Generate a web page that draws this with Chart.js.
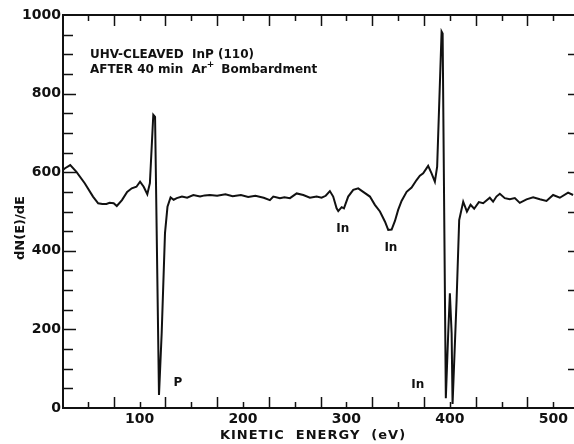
<!DOCTYPE html>
<html>
<head>
<meta charset="utf-8">
<script src="https://cdn.jsdelivr.net/npm/chart.js@4.4.1/dist/chart.umd.min.js"></script>
<style>
  html, body { margin: 0; padding: 0; background: #fff; }
  canvas { display: block; }
</style>
</head>
<body>
<canvas id="auger" width="574" height="444"></canvas>
<script>
// Auger spectrum, InP (110) after Ar+ bombardment
const energyEv = [
  26, 28, 33, 39, 47, 55, 60, 64, 68, 71, 75, 78, 83, 88, 92.5, 97, 100.5, 104, 107.5, 110,
  113.3, 115, 118.8, 121.4, 124.6, 127, 130, 133, 136, 141, 146, 152, 158.5, 163, 168,
  175, 183, 190, 198, 205, 212, 220, 226, 229.3, 235.7, 240, 245.4, 251.9, 258.3, 264.7,
  271.2, 276, 280, 284, 287.2, 290.5, 292.1, 295.4, 297.6, 301.7, 306.6, 311.4, 316.2,
  322.7, 327.5, 332.4, 337.3, 340.4, 343.7, 346.9, 350, 353.3, 358.2, 363, 367.8, 371,
  374.2, 379, 382.3, 385.5, 387.7, 392, 393, 396.1, 398.4, 400, 401.7, 402.6, 406.5, 409,
  412.9, 416.5, 420, 423.5, 428, 432.2, 438.6, 441.8, 445, 448.3, 453.1, 458, 462.8,
  467.6, 474.1, 480.5, 487, 493.4, 499.8, 506.3, 514.3, 519.1
];
const dNdE = [
  606, 610, 618, 601, 572, 538, 521, 519, 519, 522, 521, 514, 529, 550, 559, 563, 576, 563, 544, 572,
  746, 741, 33, 191, 445, 512, 536, 530, 534, 538, 535, 542, 538, 541, 542,
  540, 544, 539, 542, 537, 540, 535, 529, 538, 534, 536, 534, 546, 542, 535,
  538, 535, 540, 552, 538, 508, 501, 511, 508, 538, 555, 559, 550,
  538, 517, 500, 474, 453, 454, 476, 504, 527, 550, 561, 580, 591,
  597, 616, 597, 576, 614, 958, 953, 25, 190, 292, 190, 10, 275, 478,
  525, 500, 517, 507, 524, 521, 535, 525, 538, 545, 534, 531, 534,
  522, 531, 536, 531, 527, 542, 535, 548, 542
];

const xTickLabels = [100, 200, 300, 400, 500];
const yTickLabels = [0, 200, 400, 600, 800, 1000];

// peak labels, placed in data coordinates
const peakNames = ["P", "In", "In", "In"];
const peakAtEv = [137, 296.5, 343, 369];
const peakAtValue = [64, 455, 407, 58];

const ink = "#111";
const textFont = "bold 12px 'DejaVu Sans'";

// frame and inward tick marks, like the plotter drew them
const frameTicks = {
  id: "frameTicks",
  afterDatasetsDraw(chart) {
    const { ctx, chartArea: a, scales: { x, y } } = chart;
    ctx.save();
    ctx.strokeStyle = ink;
    ctx.lineWidth = 2;
    ctx.beginPath();
    ctx.moveTo(a.right, a.top); ctx.lineTo(a.left, a.top);
    ctx.lineTo(a.left, a.bottom); ctx.lineTo(a.right, a.bottom);
    ctx.stroke();

    ctx.lineWidth = 1.5;
    ctx.beginPath();
    for (let e = 50; e <= 525; e += 25) {
      const px = Math.round(x.getPixelForValue(e)) + 0.5;
      if (px <= a.left + 2 || px >= a.right) continue;
      const len = e % 50 === 0 ? 6 : 11;
      ctx.moveTo(px, a.bottom); ctx.lineTo(px, a.bottom - len);
      ctx.moveTo(px, a.top); ctx.lineTo(px, a.top + len);
    }
    for (let v = 50; v < 1000; v += 50) {
      const py = Math.round(y.getPixelForValue(v)) + 0.5;
      const len = v % 200 === 0 ? 13 : 10;
      ctx.moveTo(a.left, py); ctx.lineTo(a.left + len, py);
      if (v % 100 === 0) { ctx.moveTo(a.right, py); ctx.lineTo(a.right - 6, py); }
    }
    ctx.stroke();
    ctx.restore();
  },
  afterDraw(chart) {
    const { ctx, scales: { x, y } } = chart;
    ctx.save();
    ctx.fillStyle = ink;

    // axis titles
    ctx.font = "bold 13px 'DejaVu Sans'";
    ctx.textAlign = "center";
    ctx.textBaseline = "middle";
    ctx.letterSpacing = "1px";
    ctx.fillText("KINETIC  ENERGY  (eV)", 313, 436);
    ctx.letterSpacing = "0px";
    ctx.save();
    ctx.translate(21, 228);
    ctx.rotate(-Math.PI / 2);
    ctx.fillText("dN(E)/dE", 0, 0);
    ctx.restore();

    // peak labels
    ctx.font = textFont;
    peakNames.forEach((name, i) => {
      ctx.fillText(name, x.getPixelForValue(peakAtEv[i]), y.getPixelForValue(peakAtValue[i]));
    });

    // sample description
    ctx.textAlign = "left";
    ctx.textBaseline = "alphabetic";
    const tx = x.getPixelForValue(52);
    ctx.fillText("UHV-CLEAVED  InP (110)", tx, y.getPixelForValue(891));
    const line2 = y.getPixelForValue(852);
    let cx = tx;
    ctx.fillText("AFTER 40 min  Ar", cx, line2);
    cx += ctx.measureText("AFTER 40 min  Ar").width;
    ctx.font = "bold 9px 'DejaVu Sans'";
    ctx.fillText("+", cx, line2 - 6);
    cx += ctx.measureText("+").width + 7;
    ctx.font = textFont;
    ctx.fillText("Bombardment", cx, line2);
    ctx.restore();
  }
};

const tickFont = { family: "'DejaVu Sans'", size: 14, weight: "bold" };

new Chart(document.getElementById("auger"), {
  type: "line",
  data: {
    datasets: [{
      label: "dN(E)/dE",
      data: energyEv.map((e, i) => ({ x: e, y: dNdE[i] })),
      borderColor: ink,
      borderWidth: 2,
      pointRadius: 0,
      tension: 0,
      fill: false
    }]
  },
  options: {
    responsive: false,
    animation: false,
    devicePixelRatio: 1,
    layout: { padding: { top: 15, right: 0, left: 0, bottom: 0 } },
    plugins: { legend: { display: false }, tooltip: { enabled: false } },
    scales: {
      x: {
        type: "linear",
        min: 26,
        max: 520,
        afterFit: s => { s.height = 36; },
        afterBuildTicks: s => { s.ticks = xTickLabels.map(v => ({ value: v })); },
        grid: { display: false, drawTicks: false },
        border: { display: false },
        ticks: { color: ink, font: tickFont, padding: 3, maxRotation: 0, callback: v => String(v) }
      },
      y: {
        min: 0,
        max: 1000,
        afterFit: s => { s.width = 63; },
        afterBuildTicks: s => { s.ticks = yTickLabels.map(v => ({ value: v })); },
        grid: { display: false, drawTicks: false },
        border: { display: false },
        ticks: { color: ink, font: tickFont, padding: 2, callback: v => String(v) }
      }
    }
  },
  plugins: [frameTicks]
});
</script>
</body>
</html>
